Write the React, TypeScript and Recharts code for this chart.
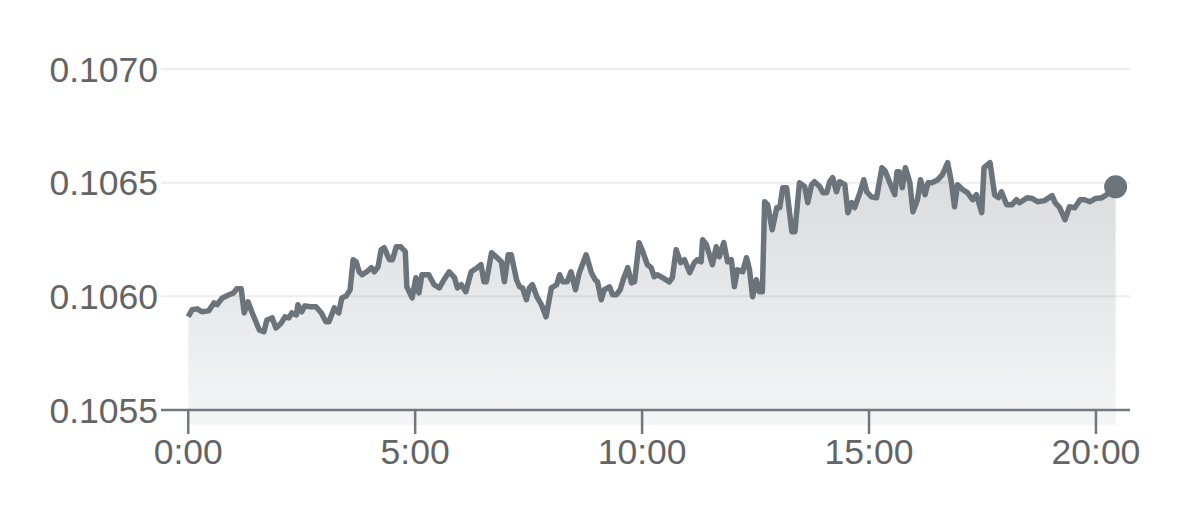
import { AreaChart, Area, XAxis, YAxis, CartesianGrid, ReferenceDot } from "recharts";

// minutes since 0:00
const minutes = [
  0, 5, 12, 18, 27, 34, 38, 45, 54, 60, 64, 70, 74, 79, 84, 94, 100, 104, 111, 116,
  123, 128, 133, 137, 143, 145, 150, 154, 162, 169, 176, 182, 186, 193, 199, 203, 209, 214, 218, 222,
  226, 230, 236, 242, 246, 251, 255, 259, 266, 270, 275, 281, 287, 289, 296, 301, 305, 309, 318, 325,
  332, 338, 345, 352, 356, 361, 367, 374, 382, 387, 391, 394, 401, 407, 414, 418, 423, 427, 434, 438,
  442, 447, 451, 455, 461, 467, 473, 480, 487, 491, 495, 501, 506, 512, 517, 526, 533, 538, 541, 546,
  550, 557, 561, 566, 571, 575, 581, 586, 590, 596, 600, 607, 612, 616, 620, 627, 636, 640, 645, 651,
  656, 663, 669, 673, 678, 680, 685, 693, 698, 702, 708, 713, 718, 722, 726, 733, 738, 742, 746, 751,
  755, 759, 762, 766, 772, 778, 782, 786, 791, 798, 802, 808, 815, 819, 824, 828, 835, 839, 844, 848,
  852, 857, 861, 868, 872, 877, 881, 888, 893, 897, 903, 910, 917, 921, 927, 934, 937, 940, 944, 948,
  954, 958, 964, 968, 974, 978, 983, 991, 997, 1004, 1009, 1013, 1017, 1024, 1030, 1037, 1042, 1049, 1052, 1060,
  1066, 1071, 1075, 1082, 1089, 1095, 1099, 1109, 1116, 1123, 1132, 1142, 1146, 1152, 1159, 1165, 1172, 1179, 1185, 1192,
  1199, 1208, 1214, 1226,
];

const rates = [
  0.10591, 0.105941, 0.105945, 0.105932, 0.105936, 0.105971, 0.105963, 0.105993, 0.106007, 0.106015,
  0.106033, 0.106033, 0.105927, 0.105976, 0.105932, 0.105852, 0.105844, 0.105896, 0.105905, 0.105861,
  0.105883, 0.10591, 0.105905, 0.105927, 0.105918, 0.105963, 0.105932, 0.105958, 0.105954, 0.105954,
  0.105927, 0.105888, 0.105888, 0.105949, 0.105927, 0.105993, 0.106002, 0.106029, 0.106161, 0.106152,
  0.106108, 0.106095, 0.106108, 0.106126, 0.106108, 0.10613, 0.106205, 0.106214, 0.106161, 0.106161,
  0.106218, 0.106218, 0.106196, 0.106042, 0.105993, 0.106082, 0.106015, 0.106095, 0.106095, 0.106051,
  0.106037, 0.106073, 0.106108, 0.106082, 0.106037, 0.106051, 0.10602, 0.106108, 0.106126, 0.106139,
  0.106064, 0.106064, 0.106192, 0.106174, 0.106152, 0.106064, 0.106183, 0.106183, 0.106073, 0.106042,
  0.106037, 0.105985, 0.106037, 0.106051, 0.105998, 0.105963, 0.10591, 0.106037, 0.106051, 0.106095,
  0.106064, 0.106064, 0.106108, 0.106029, 0.106104, 0.106183, 0.106104, 0.106073, 0.106064, 0.105985,
  0.106029, 0.106042, 0.106007, 0.106007, 0.106029, 0.106073, 0.106126, 0.106059, 0.106064, 0.106236,
  0.106205, 0.106139, 0.106126, 0.106086, 0.106095, 0.106082, 0.106064, 0.106082, 0.106205, 0.106148,
  0.106161, 0.106104, 0.106148, 0.106161, 0.106152, 0.106249, 0.106227, 0.106139, 0.106218, 0.106174,
  0.106236, 0.106152, 0.106161, 0.106042, 0.106117, 0.106108, 0.10617, 0.106117, 0.105998, 0.106073,
  0.10602, 0.10602, 0.106416, 0.106403, 0.106293, 0.10639, 0.10639, 0.106478, 0.106478, 0.106284,
  0.106284, 0.1065, 0.106482, 0.106412, 0.106491, 0.106504, 0.106482, 0.106456, 0.106456, 0.106504,
  0.106522, 0.10646, 0.106504, 0.106491, 0.106368, 0.106412, 0.10639, 0.106456, 0.106513, 0.10646,
  0.106438, 0.106434, 0.106566, 0.106553, 0.106504, 0.106447, 0.106548, 0.106548, 0.106478, 0.106566,
  0.1065, 0.106372, 0.106425, 0.106513, 0.106447, 0.1065, 0.1065, 0.106513, 0.106535, 0.106588,
  0.1065, 0.106394, 0.106491, 0.106469, 0.106456, 0.106425, 0.106447, 0.106368, 0.106566, 0.106588,
  0.106447, 0.106434, 0.10646, 0.106403, 0.106403, 0.106425, 0.106412, 0.106434, 0.10643, 0.106416,
  0.106421, 0.106443, 0.106412, 0.10639, 0.106337, 0.106394, 0.10639, 0.106425, 0.106425, 0.106416,
  0.10643, 0.106434, 0.106447, 0.106482,
];

const rateTicks = [0.1055, 0.106, 0.1065, 0.107];
const hourTicks = [0, 5, 10, 15, 20];

const LINE = "#6b737b";
const AXIS = "#6f777f";
const LABEL = "#636466";

const data = minutes.map((t, i) => ({ t, rate: rates[i] }));
const last = data[data.length - 1];

export default function App() {
  return (
    <div style={{ position: "fixed", left: 0, top: 0, width: 1179, height: 514, background: "#fff" }}>
      <AreaChart
        width={1179}
        height={514}
        data={data}
        margin={{ top: 69, right: 49, bottom: 44, left: 0 }}
        style={{ fontFamily: "'Liberation Sans', Arial, sans-serif" }}
      >
        <defs>
          <linearGradient id="rateFill" x1="0" y1="0" x2="0" y2="1">
            <stop offset="0%" stopColor={LINE} stopOpacity={0.26} />
            <stop offset="100%" stopColor={LINE} stopOpacity={0.07} />
          </linearGradient>
        </defs>
        <CartesianGrid vertical={false} stroke="#eeeeef" strokeWidth={2} />
        <XAxis
          dataKey="t"
          type="number"
          domain={[-36, 1245]}
          ticks={hourTicks.map((h) => h * 60)}
          tickFormatter={(m: number) => `${m / 60}:00`}
          height={60}
          tickSize={24}
          tickMargin={5}
          axisLine={{ stroke: AXIS, strokeWidth: 2.5 }}
          tickLine={{ stroke: AXIS, strokeWidth: 2.5 }}
          tick={{ fill: LABEL, fontSize: 35.5 }}
        />
        <YAxis
          type="number"
          domain={[0.1055, 0.107]}
          ticks={rateTicks}
          tickFormatter={(v: number) => v.toFixed(4)}
          width={161}
          tickSize={0}
          tickMargin={3}
          axisLine={false}
          tickLine={false}
          tick={{ fill: LABEL, fontSize: 35.5 }}
        />
        <Area
          type="linear"
          dataKey="rate"
          stroke={LINE}
          strokeWidth={5.5}
          strokeLinejoin="round"
          fill="url(#rateFill)"
          fillOpacity={1}
          baseValue={0.105434}
          dot={false}
          activeDot={false}
          isAnimationActive={false}
        />
        <ReferenceDot x={last.t} y={last.rate} r={11.5} fill={LINE} stroke="none" />
      </AreaChart>
    </div>
  );
}
